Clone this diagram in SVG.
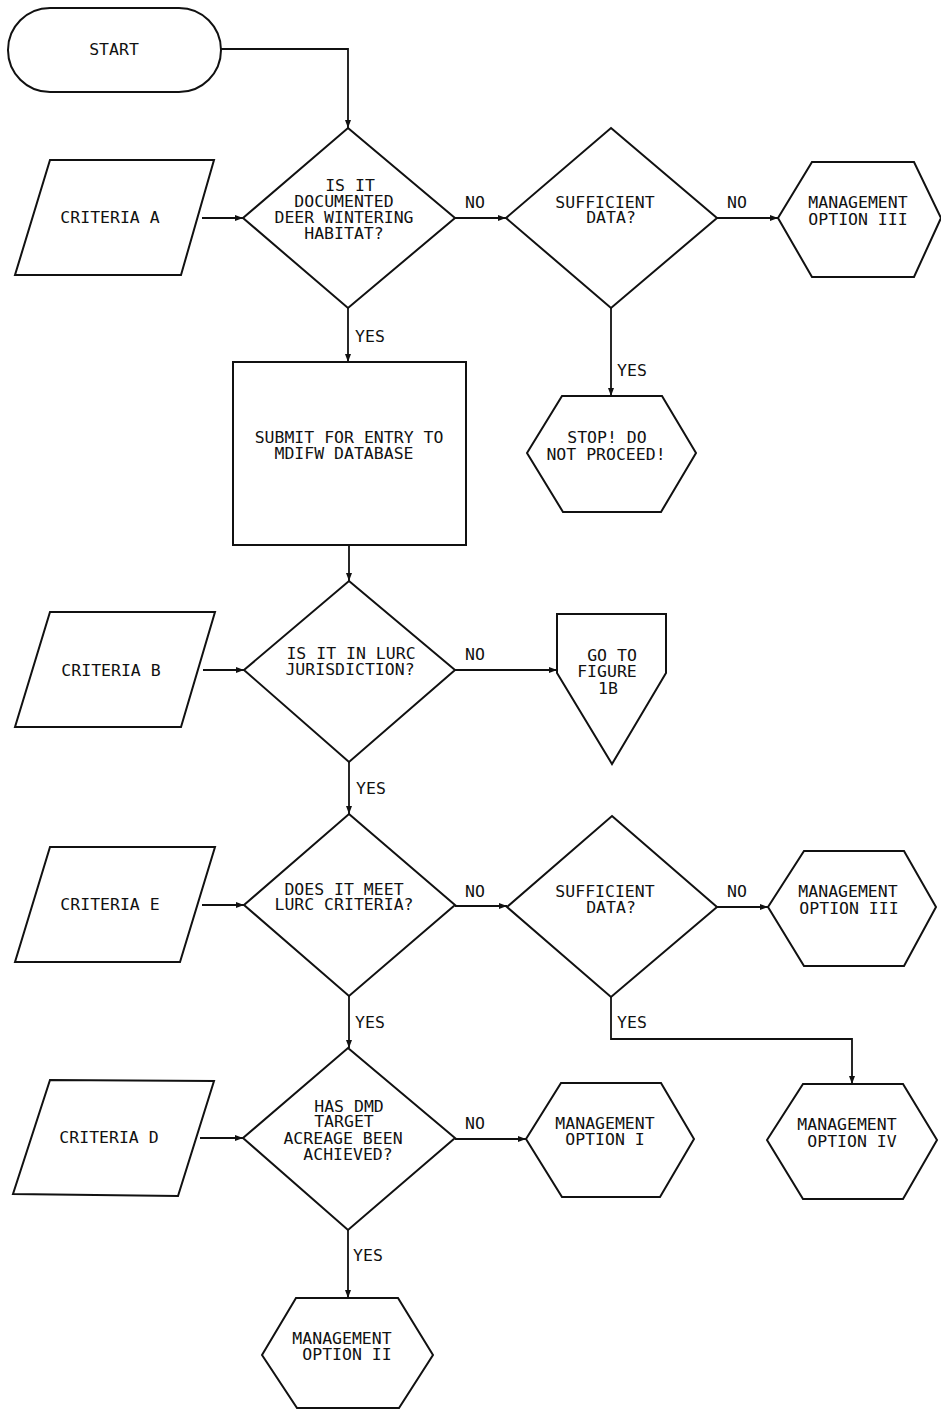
<svg xmlns="http://www.w3.org/2000/svg" width="941" height="1410" viewBox="0 0 941 1410">
<defs>
<style>
.s{fill:#fff;stroke:#111;stroke-width:2;stroke-linejoin:miter}
.c{fill:none;stroke:#111;stroke-width:1.8}
text{font-family:"DejaVu Sans Mono","Liberation Mono",monospace;font-size:16.5px;fill:#111;text-anchor:middle}
</style>
<marker id="ah" markerWidth="8" markerHeight="6" refX="8" refY="3" orient="auto" markerUnits="userSpaceOnUse">
<path d="M0,0 L8,3 L0,6 z" fill="#111"/>
</marker>
</defs>
<rect width="941" height="1410" fill="#fff"/>

<g id="connectors">
<path class="c" d="M221,49 H348 V128" marker-end="url(#ah)"/>
<path class="c" d="M202,218 H243" marker-end="url(#ah)"/>
<path class="c" d="M455,218 H506" marker-end="url(#ah)"/>
<path class="c" d="M717,218 H778" marker-end="url(#ah)"/>
<path class="c" d="M348,308 V362" marker-end="url(#ah)"/>
<path class="c" d="M611,308 V396" marker-end="url(#ah)"/>
<path class="c" d="M349,545 V581" marker-end="url(#ah)"/>
<path class="c" d="M203,670 H244" marker-end="url(#ah)"/>
<path class="c" d="M455,670 H557" marker-end="url(#ah)"/>
<path class="c" d="M349,762 V814" marker-end="url(#ah)"/>
<path class="c" d="M202,905 H244" marker-end="url(#ah)"/>
<path class="c" d="M455,906 H507" marker-end="url(#ah)"/>
<path class="c" d="M717,907 H768" marker-end="url(#ah)"/>
<path class="c" d="M611,997 V1039 H852 V1084" marker-end="url(#ah)"/>
<path class="c" d="M349,996 V1048" marker-end="url(#ah)"/>
<path class="c" d="M200,1138 H243" marker-end="url(#ah)"/>
<path class="c" d="M455,1139 H526" marker-end="url(#ah)"/>
<path class="c" d="M348,1230 V1298" marker-end="url(#ah)"/>
<text x="475" y="208">NO</text>
<text x="737" y="208">NO</text>
<text x="370" y="342">YES</text>
<text x="632" y="376">YES</text>
<text x="475" y="660">NO</text>
<text x="371" y="794">YES</text>
<text x="475" y="897">NO</text>
<text x="737" y="897">NO</text>
<text x="370" y="1028">YES</text>
<text x="632" y="1028">YES</text>
<text x="475" y="1129">NO</text>
<text x="368" y="1261">YES</text>
</g>

<g id="start">
<rect class="s" x="8" y="8" width="213" height="84" rx="42" ry="42"/>
<text x="114" y="55">START</text>
</g>

<g id="criteria-a">
<polygon class="s" points="50,160 214,160 181,275 15,275"/>
<text x="110" y="223">CRITERIA A</text>
</g>

<g id="q-documented">
<polygon class="s" points="348,128 455,218 348,308 243,218"/>
<text x="350" y="191">IS IT</text>
<text x="344" y="207">DOCUMENTED</text>
<text x="344" y="223">DEER WINTERING</text>
<text x="344" y="239">HABITAT?</text>
</g>

<g id="q-sufficient-1">
<polygon class="s" points="611,128 717,218 611,308 506,218"/>
<text x="605" y="208">SUFFICIENT</text>
<text x="611" y="223">DATA?</text>
</g>

<g id="mgmt-iii-1">
<polygon class="s" points="778,218 812,162 914,162 941,218 914,277 812,277"/>
<text x="858" y="208">MANAGEMENT</text>
<text x="858" y="225">OPTION III</text>
</g>

<g id="submit">
<rect class="s" x="233" y="362" width="233" height="183"/>
<text x="349" y="443">SUBMIT FOR ENTRY TO</text>
<text x="344" y="459">MDIFW DATABASE</text>
</g>

<g id="stop">
<polygon class="s" points="527,453 562,396 662,396 696,453 661,512 563,512"/>
<text x="607" y="443">STOP! DO</text>
<text x="606" y="460">NOT PROCEED!</text>
</g>

<g id="criteria-b">
<polygon class="s" points="50,612 215,612 181,727 15,727"/>
<text x="111" y="676">CRITERIA B</text>
</g>

<g id="q-lurc">
<polygon class="s" points="349,581 455,670 349,762 244,670"/>
<text x="351" y="659">IS IT IN LURC</text>
<text x="350" y="675">JURISDICTION?</text>
</g>

<g id="goto-1b">
<polygon class="s" points="557,614 666,614 666,673 612,764 557,673"/>
<text x="612" y="661">GO TO</text>
<text x="607" y="677">FIGURE</text>
<text x="608" y="694">1B</text>
</g>

<g id="criteria-e">
<polygon class="s" points="50,847 215,847 180,962 15,962"/>
<text x="110" y="910">CRITERIA E</text>
</g>

<g id="q-lurc-criteria">
<polygon class="s" points="349,814 455,905 349,996 244,905"/>
<text x="344" y="895">DOES IT MEET</text>
<text x="344" y="910">LURC CRITERIA?</text>
</g>

<g id="q-sufficient-2">
<polygon class="s" points="612,816 717,907 611,997 507,907"/>
<text x="605" y="897">SUFFICIENT</text>
<text x="611" y="913">DATA?</text>
</g>

<g id="mgmt-iii-2">
<polygon class="s" points="768,907 804,851 904,851 936,907 904,966 804,966"/>
<text x="848" y="897">MANAGEMENT</text>
<text x="849" y="914">OPTION III</text>
</g>

<g id="mgmt-iv">
<polygon class="s" points="767,1140 803,1084 903,1084 937,1140 903,1199 803,1199"/>
<text x="847" y="1130">MANAGEMENT</text>
<text x="852" y="1147">OPTION IV</text>
</g>

<g id="criteria-d">
<polygon class="s" points="50,1080 214,1081 178,1196 13,1194"/>
<text x="109" y="1143">CRITERIA D</text>
</g>

<g id="q-dmd">
<polygon class="s" points="348,1048 455,1138 348,1230 243,1138"/>
<text x="349" y="1112">HAS DMD</text>
<text x="344" y="1127">TARGET</text>
<text x="343" y="1144">ACREAGE BEEN</text>
<text x="348" y="1160">ACHIEVED?</text>
</g>

<g id="mgmt-i">
<polygon class="s" points="526,1139 561,1083 661,1083 694,1139 660,1197 562,1197"/>
<text x="605" y="1129">MANAGEMENT</text>
<text x="605" y="1145">OPTION I</text>
</g>

<g id="mgmt-ii">
<polygon class="s" points="262,1355 296,1298 398,1298 433,1355 399,1408 297,1408"/>
<text x="342" y="1344">MANAGEMENT</text>
<text x="347" y="1360">OPTION II</text>
</g>
</svg>
